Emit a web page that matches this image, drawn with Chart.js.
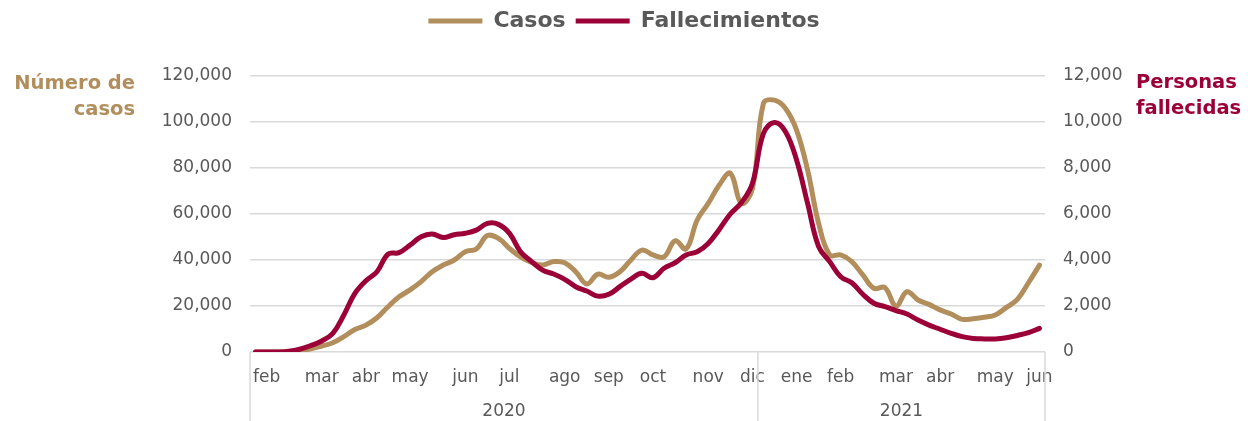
<!DOCTYPE html>
<html>
<head>
<meta charset="utf-8">
<script src="https://cdn.jsdelivr.net/npm/chart.js@4"></script>
<style>
  body { margin: 0; background: #fff; }
  #wrap { width: 1248px; height: 421px; position: relative; }
</style>
</head>
<body>
<div id="wrap"><canvas id="grafica"></canvas></div>
<script>
// one category per week, month name on the week where it is shown
var semanas = [
    '', 'feb', '', '', '', '', 'mar', '', '', '', 'abr', '', '', '', 'may', '',
    '', '', '', 'jun', '', '', '', 'jul', '', '', '', '', 'ago', '', '', '',
    'sep', '', '', '', 'oct', '', '', '', '', 'nov', '', '', '', 'dic',
    '', '', '', 'ene', '', '', '', 'feb', '', '', '', '', 'mar', '', '', '',
    'abr', '', '', '', '', 'may', '', '', '', 'jun'
];
var anios = ['2020', '2021'];
var semanasPorAnio = [46, 26];

var casos = [
    0, 0, 0, 100, 500, 1400, 2600, 4000, 6700, 9800, 11700, 14900, 19700, 24000, 27000, 30600,
    34900, 37800, 40000, 43600, 44800, 50600, 49400, 45000, 41400, 39000, 37800, 39300, 38800, 34900, 29600, 33800,
    32500, 34900, 40000, 44300, 42200, 41400, 48300, 44800, 57400, 64600, 72600, 77700, 64600, 71000,
    108100, 109500, 105900, 96500, 79100, 55900, 42200, 42200, 39300, 33500, 27700, 28000, 20000, 26200, 22600, 20700,
    18300, 16500, 14200, 14500, 15100, 16100, 19400, 22900, 30100, 37800
];
var fallecimientos = [
    0, 0, 0, 30, 120, 280, 480, 810, 1610, 2550, 3100, 3490, 4260, 4320, 4650, 5010,
    5130, 4980, 5100, 5160, 5300, 5590, 5550, 5160, 4360, 3930, 3560, 3390, 3160, 2840, 2650, 2430,
    2510, 2840, 3170, 3420, 3230, 3640, 3880, 4220, 4360, 4720, 5330, 6000, 6490, 7330,
    9500, 9980, 9580, 8350, 6460, 4580, 3930, 3270, 3010, 2510, 2120, 1970, 1800, 1650, 1390, 1170,
    990, 810, 670, 590, 570, 570, 620, 720, 840, 1030
];

var colorCasos = '#b38e5d';
var colorFallec = '#9b0037';
var gris = '#595959';
var lineaGris = '#d9d9d9';

var fuente = 'DejaVu Sans';

// year row under the month labels, with the box lines
var aniosPlugin = {
    id: 'anios',
    afterDraw: function (chart) {
        var ctx = chart.ctx, a = chart.chartArea, x = chart.scales.x;
        var bordes = [a.left];
        var inicio = 0;
        semanasPorAnio.forEach(function (n, i) {
            var fin = inicio + n;
            if (i < semanasPorAnio.length - 1) {
                bordes.push((x.getPixelForValue(fin - 1) + x.getPixelForValue(fin)) / 2);
            } else {
                bordes.push(a.right);
            }
            inicio = fin;
        });
        ctx.save();
        ctx.strokeStyle = lineaGris;
        ctx.lineWidth = 1.5;
        bordes.forEach(function (b) {
            ctx.beginPath();
            ctx.moveTo(b, a.bottom);
            ctx.lineTo(b, chart.height);
            ctx.stroke();
        });
        ctx.fillStyle = gris;
        ctx.font = '17px "' + fuente + '"';
        ctx.textAlign = 'center';
        ctx.textBaseline = 'middle';
        anios.forEach(function (t, i) {
            ctx.fillText(t, (bordes[i] + bordes[i + 1]) / 2, a.bottom + 60);
        });
        ctx.restore();
    }
};

// axis titles beside the top ticks
var titulosPlugin = {
    id: 'titulos',
    afterDraw: function (chart) {
        var ctx = chart.ctx, a = chart.chartArea;
        ctx.save();
        ctx.font = 'bold 19.5px "' + fuente + '"';
        ctx.textBaseline = 'alphabetic';
        ctx.fillStyle = colorCasos;
        ctx.textAlign = 'right';
        ctx.fillText('Número de', a.left - 115, a.top + 13);
        ctx.fillText('casos', a.left - 115, a.top + 39);
        ctx.fillStyle = colorFallec;
        ctx.textAlign = 'left';
        ctx.fillText('Personas', a.right + 91, a.top + 12);
        ctx.fillText('fallecidas', a.right + 91, a.top + 38);
        ctx.restore();
    }
};

var legendaAlto = {
    id: 'legendaAlto',
    beforeInit: function (chart) {
        var fit = chart.legend.fit;
        chart.legend.fit = function () {
            fit.call(this);
            this.height = 76;
        };
    }
};

var formato = function (v) { return v.toLocaleString('en-US'); };

var ctx = document.getElementById('grafica').getContext('2d');
new Chart(ctx, {
    type: 'line',
    data: {
        labels: semanas,
        datasets: [{
            label: 'Casos',
            data: casos,
            yAxisID: 'y',
            borderColor: colorCasos,
            backgroundColor: colorCasos,
            borderWidth: 5,
            borderCapStyle: 'round',
            borderJoinStyle: 'round',
            pointRadius: 0,
            tension: 0.4,
            order: 2
        }, {
            label: 'Fallecimientos',
            data: fallecimientos,
            yAxisID: 'y1',
            borderColor: colorFallec,
            backgroundColor: colorFallec,
            borderWidth: 5,
            borderCapStyle: 'round',
            borderJoinStyle: 'round',
            pointRadius: 0,
            tension: 0.4,
            order: 1
        }]
    },
    options: {
        responsive: true,
        maintainAspectRatio: false,
        animation: false,
        layout: { padding: 0 },
        plugins: {
            tooltip: { enabled: false },
            legend: {
                position: 'top',
                labels: {
                    usePointStyle: true,
                    pointStyle: 'line',
                    pointStyleWidth: 54,
                    padding: 10,
                    color: gris,
                    font: { family: fuente, size: 22, weight: 'bold' },
                    sort: function (a, b) { return a.datasetIndex - b.datasetIndex; }
                }
            }
        },
        scales: {
            x: {
                offset: true,
                grid: { display: false, drawTicks: false },
                border: { display: false },
                ticks: {
                    autoSkip: false,
                    maxRotation: 0,
                    padding: 15,
                    color: gris,
                    font: { family: fuente, size: 17 }
                },
                afterFit: function (s) { s.height = 69; }
            },
            y: {
                position: 'left',
                min: 0,
                max: 120000,
                ticks: {
                    stepSize: 20000,
                    padding: 18,
                    color: gris,
                    font: { family: fuente, size: 17 },
                    callback: formato
                },
                grid: { color: lineaGris, lineWidth: 1.5, drawTicks: false },
                border: { display: false },
                afterFit: function (s) { s.width = 250; }
            },
            y1: {
                position: 'right',
                min: 0,
                max: 12000,
                ticks: {
                    stepSize: 2000,
                    padding: 18,
                    color: gris,
                    font: { family: fuente, size: 17 },
                    callback: formato
                },
                grid: { drawOnChartArea: false, drawTicks: false },
                border: { display: false },
                afterFit: function (s) { s.width = 203; }
            }
        }
    },
    plugins: [legendaAlto, aniosPlugin, titulosPlugin]
});
</script>
</body>
</html>
